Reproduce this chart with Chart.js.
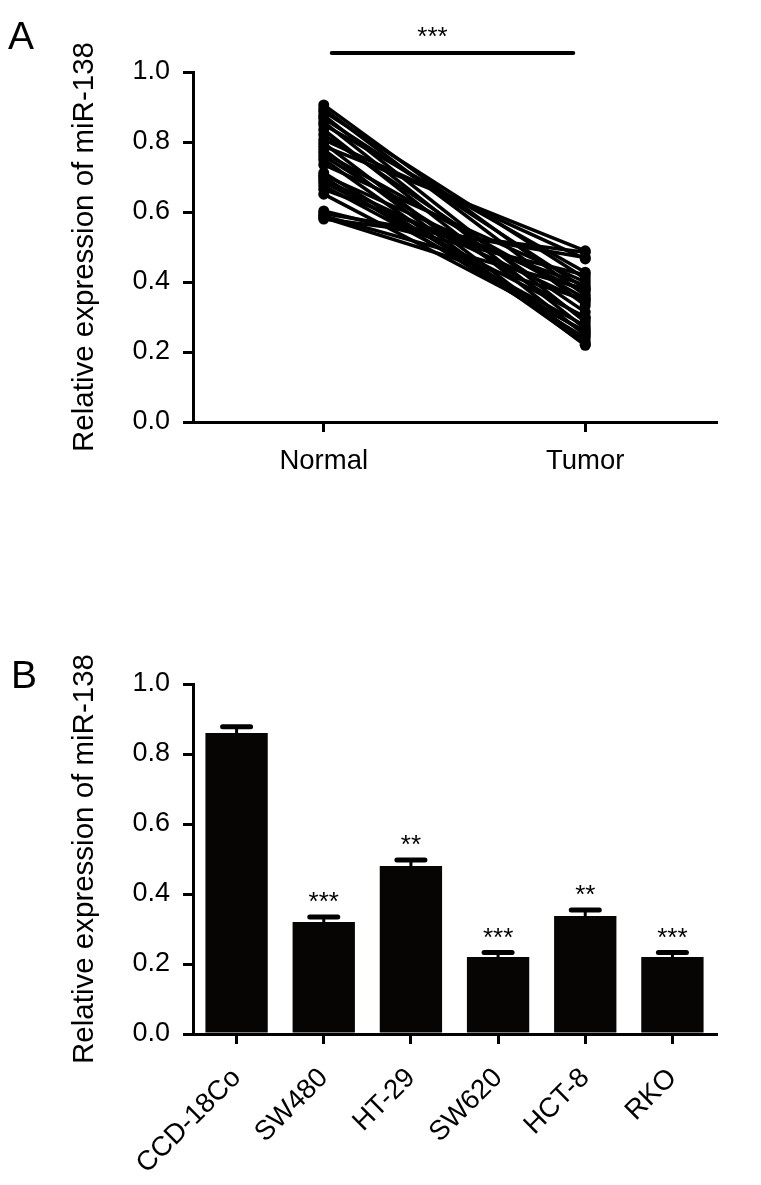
<!DOCTYPE html>
<html>
<head>
<meta charset="utf-8">
<script src="https://cdn.jsdelivr.net/npm/chart.js@4.4.1/dist/chart.umd.min.js"></script>
<style>
  body { margin: 0; background: #fff; }
  #wrap { position: relative; width: 761px; height: 1185px; background: #fff; }
  canvas { position: absolute; left: 0; }
  .panel { position: absolute; font-family: 'Liberation Sans', Arial, Helvetica, sans-serif; font-size: 39px; color: #000; line-height: 1; }
</style>
</head>
<body>
<div id="wrap">
  <canvas id="chartA" width="761" height="600" style="top:0"></canvas>
  <canvas id="chartB" width="761" height="585" style="top:600px"></canvas>
  <div class="panel" style="left:8px;top:16px">A</div>
  <div class="panel" style="left:11px;top:655px">B</div>
</div>
<script>
// panel A: paired samples
const groups = ["Normal", "Tumor"];
const normalValues = [0.906, 0.895, 0.887, 0.876, 0.868, 0.857, 0.849, 0.835, 0.821, 0.807,
                      0.797, 0.788, 0.778, 0.769, 0.760, 0.750, 0.735, 0.712, 0.705, 0.699,
                      0.692, 0.685, 0.675, 0.665, 0.651, 0.603, 0.596, 0.589, 0.584, 0.580];
const tumorValues  = [0.362, 0.333, 0.410, 0.286, 0.381, 0.267, 0.428, 0.248, 0.314, 0.466,
                      0.229, 0.489, 0.219, 0.353, 0.295, 0.222, 0.400, 0.255, 0.372, 0.240,
                      0.343, 0.300, 0.275, 0.390, 0.260, 0.420, 0.470, 0.380, 0.350, 0.485];
const pairSignif = "***";

// panel B: cell lines
const cellLines = ["CCD-18Co", "SW480", "HT-29", "SW620", "HCT-8", "RKO"];
const cellMeans = [0.86, 0.32, 0.48, 0.22, 0.337, 0.22];
const cellErrors = [0.018, 0.014, 0.017, 0.013, 0.017, 0.013];
const cellSignif = ["", "***", "**", "***", "**", "***"];

const yTicks = [0, 0.2, 0.4, 0.6, 0.8, 1.0];
const yTitle = "Relative expression of miR-138";

const FONT = "'Liberation Sans', Arial, Helvetica, sans-serif";
Chart.defaults.font.family = FONT;
Chart.defaults.color = "#000";

function yScaleOpts() {
  return {
    min: 0, max: 1,
    afterBuildTicks: s => { s.ticks = yTicks.map(v => ({ value: v })); },
    afterFit: s => { s.width = 126; },
    ticks: { font: { size: 27 }, padding: 13, callback: v => Number(v).toFixed(1) },
    grid: { drawOnChartArea: false, drawTicks: true, tickLength: 10, color: "#000", lineWidth: 3 },
    border: { display: true, color: "#000", width: 3 },
    title: { display: true, text: yTitle, font: { size: 29.5 }, padding: { top: 0, bottom: 0 } }
  };
}

const bracketPlugin = {
  id: "bracket",
  afterDraw(chart) {
    const x = chart.scales.x, y = chart.scales.y, ctx = chart.ctx;
    const yy = y.getPixelForValue(1.054);
    const x0 = x.getPixelForValue(0) + 8, x1 = x.getPixelForValue(1) - 12;
    ctx.save();
    ctx.strokeStyle = "#000";
    ctx.lineWidth = 4;
    ctx.lineCap = "round";
    ctx.beginPath();
    ctx.moveTo(x0, yy);
    ctx.lineTo(x1, yy);
    ctx.stroke();
    ctx.font = "26px " + FONT;
    ctx.textAlign = "center";
    ctx.textBaseline = "middle";
    ctx.fillText(pairSignif, (x0 + x1) / 2 - 20, yy - 15);
    ctx.restore();
  }
};

new Chart(document.getElementById("chartA"), {
  type: "line",
  data: {
    labels: groups,
    datasets: normalValues.map((n, i) => ({
      data: [n, tumorValues[i]],
      borderColor: "#000",
      borderWidth: 3.5,
      pointRadius: 5.5,
      pointBackgroundColor: "#000",
      pointBorderWidth: 0,
      tension: 0
    }))
  },
  options: {
    responsive: false,
    animation: false,
    devicePixelRatio: 1,
    layout: { padding: { left: 67, right: 45, top: 72, bottom: 98 } },
    plugins: { legend: { display: false }, tooltip: { enabled: false } },
    scales: {
      x: {
        offset: true,
        afterFit: s => { s.height = 80; },
        ticks: { font: { size: 27.5 }, padding: 13 },
        grid: { offset: false, drawOnChartArea: false, drawTicks: true, tickLength: 10, color: "#000", lineWidth: 3 },
        border: { display: true, color: "#000", width: 3 }
      },
      y: yScaleOpts()
    }
  },
  plugins: [bracketPlugin]
});

const errorBarPlugin = {
  id: "errorBars",
  afterDatasetsDraw(chart) {
    const x = chart.scales.x, y = chart.scales.y, ctx = chart.ctx;
    ctx.save();
    ctx.strokeStyle = "#000";
    ctx.fillStyle = "#000";
    cellMeans.forEach((m, i) => {
      const cx = x.getPixelForValue(i);
      const yBar = y.getPixelForValue(m);
      const yTop = y.getPixelForValue(m + cellErrors[i]);
      ctx.lineCap = "butt";
      ctx.lineWidth = 3;
      ctx.beginPath();
      ctx.moveTo(cx, yBar);
      ctx.lineTo(cx, yTop);
      ctx.stroke();
      ctx.lineCap = "round";
      ctx.lineWidth = 5;
      ctx.beginPath();
      ctx.moveTo(cx - 14, yTop);
      ctx.lineTo(cx + 14, yTop);
      ctx.stroke();
      if (cellSignif[i]) {
        ctx.font = "26px " + FONT;
        ctx.textAlign = "center";
        ctx.textBaseline = "middle";
        ctx.fillText(cellSignif[i], cx, yTop - 14);
      }
    });
    ctx.restore();
  }
};

new Chart(document.getElementById("chartB"), {
  type: "bar",
  data: {
    labels: cellLines,
    datasets: [{
      data: cellMeans,
      backgroundColor: "#070504",
      borderWidth: 0,
      barPercentage: 0.715,
      categoryPercentage: 1.0
    }]
  },
  options: {
    responsive: false,
    animation: false,
    devicePixelRatio: 1,
    layout: { padding: { left: 67, right: 45, top: 84, bottom: 1 } },
    plugins: { legend: { display: false }, tooltip: { enabled: false } },
    scales: {
      x: {
        afterFit: s => { s.height = 150; },
        ticks: { font: { size: 27.5 }, padding: 18, autoSkip: false, minRotation: 45, maxRotation: 45 },
        grid: { offset: false, drawOnChartArea: false, drawTicks: true, tickLength: 10, color: "#000", lineWidth: 3 },
        border: { display: true, color: "#000", width: 3 }
      },
      y: yScaleOpts()
    }
  },
  plugins: [errorBarPlugin]
});
</script>
</body>
</html>
